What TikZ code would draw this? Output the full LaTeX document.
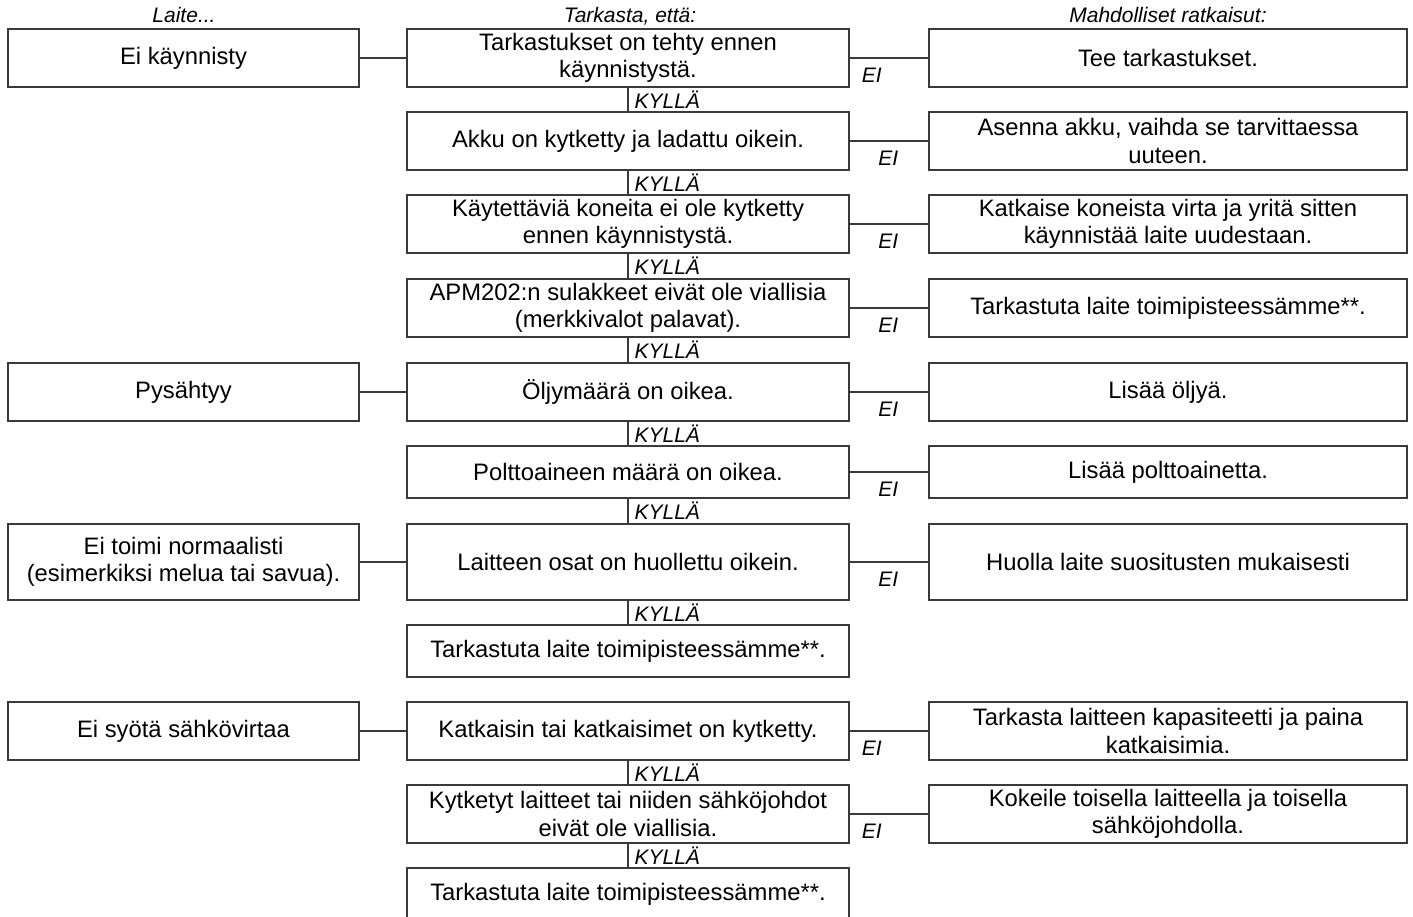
\documentclass[tikz,border=0pt]{standalone}
\usepackage{fontspec}
\setmainfont{Liberation Sans}
\usepackage{xcolor}
\definecolor{edge}{HTML}{3A3A3A}
\newcommand{\mainsize}{\fontsize{23.8}{27.5}\selectfont}
\newcommand{\labelsize}{\fontsize{21}{24}\selectfont}
\usepackage{tikz}
\usetikzlibrary{positioning}

\begin{document}
\begin{tikzpicture}[x=1pt, y=-1pt,
  box/.style={draw=edge, line width=1.2pt, align=center, inner sep=0pt,
              minimum height=58pt, font=\mainsize},
  cause/.style={box, minimum width=351pt},
  check/.style={box, minimum width=442pt},
  fix/.style={box, minimum width=478pt},
  head/.style={font=\labelsize\itshape, inner sep=0pt, anchor=base},
  yes/.style={font=\labelsize\itshape, inner sep=0pt, right=6pt},
  no/.style={font=\labelsize\itshape, inner sep=0pt, yshift=-17pt},
  link/.style={draw=edge, line width=1.2pt}]

  \useasboundingbox (0,0) rectangle (1413,916);

  \node[head] (hcause) at (184,22) {Laite...};
  \node[head] (hcheck) at (630,22) {Tarkasta, että:};
  \node[head] (hfix) at (1168,22) {Mahdolliset ratkaisut:};

  \node[cause] (c1) at (183.5,58) {Ei käynnisty};
  \node[check] (k1) at (628,58) {Tarkastukset on tehty ennen\\käynnistystä.};
  \node[fix] (f1) at (1168,58) {Tee tarkastukset.};

  \node[check] (k2) at (628,141) {Akku on kytketty ja ladattu oikein.};
  \node[fix] (f2) at (1168,141) {Asenna akku, vaihda se tarvittaessa\\uuteen.};

  \node[check] (k3) at (628,224) {Käytettäviä koneita ei ole kytketty\\ennen käynnistystä.};
  \node[fix] (f3) at (1168,224) {Katkaise koneista virta ja yritä sitten\\käynnistää laite uudestaan.};

  \node[check] (k4) at (628,308) {APM202:n sulakkeet eivät ole viallisia\\(merkkivalot palavat).};
  \node[fix] (f4) at (1168,308) {Tarkastuta laite toimipisteessämme**.};

  \node[cause] (c2) at (183.5,392) {Pysähtyy};
  \node[check] (k5) at (628,392) {Öljymäärä on oikea.};
  \node[fix] (f5) at (1168,392) {Lisää öljyä.};

  \node[check, minimum height=52pt] (k6) at (628,472) {Polttoaineen määrä on oikea.};
  \node[fix, minimum height=52pt] (f6) at (1168,472) {Lisää polttoainetta.};

  \node[cause, minimum height=76pt] (c3) at (183.5,562) {Ei toimi normaalisti\\(esimerkiksi melua tai savua).};
  \node[check, minimum height=76pt] (k7) at (628,562) {Laitteen osat on huollettu oikein.};
  \node[fix, minimum height=76pt] (f7) at (1168,562) {Huolla laite suositusten mukaisesti};

  \node[check, minimum height=52pt] (k8) at (628,651) {Tarkastuta laite toimipisteessämme**.};

  \node[cause] (c4) at (183.5,731) {Ei syötä sähkövirtaa};
  \node[check] (k9) at (628,731) {Katkaisin tai katkaisimet on kytketty.};
  \node[fix] (f9) at (1168,731) {Tarkasta laitteen kapasiteetti ja paina\\katkaisimia.};

  \node[check] (k10) at (628,814) {Kytketyt laitteet tai niiden sähköjohdot\\eivät ole viallisia.};
  \node[fix] (f10) at (1168,814) {Kokeile toisella laitteella ja toisella\\sähköjohdolla.};

  \node[check, minimum height=52pt] (k11) at (628,894) {Tarkastuta laite toimipisteessämme**.};

  \draw[link] (c1) -- (k1);
  \draw[link] (c2) -- (k5);
  \draw[link] (c3) -- (k7);
  \draw[link] (c4) -- (k9);

  \draw[link] (k1) -- node[no, pos=.28] {EI} (f1);
  \draw[link] (k2) -- node[no, pos=.49] {EI} (f2);
  \draw[link] (k3) -- node[no, pos=.49] {EI} (f3);
  \draw[link] (k4) -- node[no, pos=.49] {EI} (f4);
  \draw[link] (k5) -- node[no, pos=.49] {EI} (f5);
  \draw[link] (k6) -- node[no, pos=.49] {EI} (f6);
  \draw[link] (k7) -- node[no, pos=.49] {EI} (f7);
  \draw[link] (k9) -- node[no, pos=.28] {EI} (f9);
  \draw[link] (k10) -- node[no, pos=.28] {EI} (f10);

  \draw[link] (k1) -- node[yes] {KYLLÄ} (k2);
  \draw[link] (k2) -- node[yes] {KYLLÄ} (k3);
  \draw[link] (k3) -- node[yes] {KYLLÄ} (k4);
  \draw[link] (k4) -- node[yes] {KYLLÄ} (k5);
  \draw[link] (k5) -- node[yes] {KYLLÄ} (k6);
  \draw[link] (k6) -- node[yes] {KYLLÄ} (k7);
  \draw[link] (k7) -- node[yes] {KYLLÄ} (k8);
  \draw[link] (k9) -- node[yes] {KYLLÄ} (k10);
  \draw[link] (k10) -- node[yes] {KYLLÄ} (k11);

\end{tikzpicture}
\end{document}
